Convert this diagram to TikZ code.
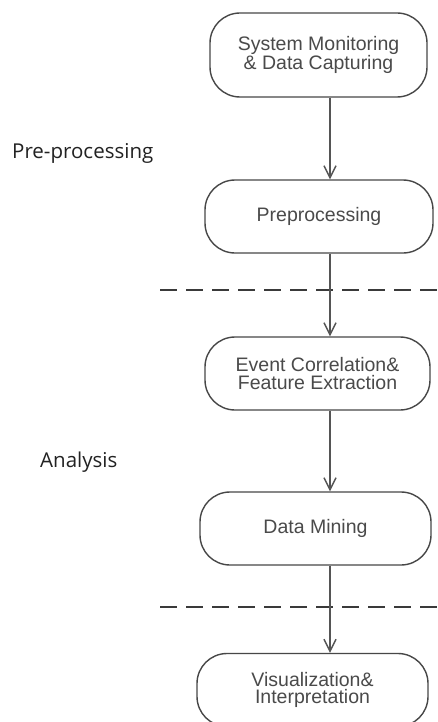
\documentclass[tikz,border=0pt]{standalone}
\usepackage{fontspec}
\setmainfont{Liberation Sans}
\newfontfamily\labfont{Open Sans}
\usetikzlibrary{arrows.meta}
\definecolor{boxline}{HTML}{474747}
\definecolor{boxtext}{HTML}{4A4A4A}
\definecolor{arrowline}{HTML}{555555}
\definecolor{sepline}{HTML}{3A3A3A}
\definecolor{labtext}{HTML}{222222}
\begin{document}
\begin{tikzpicture}[x=1bp,y=-1bp,
  stage/.style={draw=boxline, line width=1.4bp, rounded corners=30bp, align=center,
    text=boxtext, font=\fontsize{19.5bp}{17.5bp}\selectfont, inner sep=0pt},
  flow/.style={draw=arrowline, line width=1.4bp,
    -{Straight Barb[length=12bp,width=12bp,line width=1.4bp]}},
  sepline/.style={draw=sepline, line width=1.5bp, dash pattern=on 17bp off 9bp},
  phase/.style={font=\labfont\fontsize{20.5bp}{24bp}\selectfont, text=labtext,
    anchor=base west, inner sep=0pt}]
\useasboundingbox (0,0) rectangle (438,722);
\clip (0,0) rectangle (438,722);
\fill[white] (0,0) rectangle (438,722);

\node[stage, minimum width=217bp, minimum height=84bp] (b1) at (318.5,55) {System Monitoring\\\& Data Capturing};
\node[stage, minimum width=228bp, minimum height=73bp] (b2) at (319,216.5) {Preprocessing};
\node[stage, minimum width=225bp, minimum height=73bp] (b3) at (317.5,373.5) {Event Correlation\&\\Feature Extraction};
\node[stage, minimum width=231bp, minimum height=73bp] (b4) at (315.5,528.5) {Data Mining};
\node[stage, minimum width=231bp, minimum height=73bp] (b5) at (312.5,690) {Visualization\&\\Interpretation};

\node[phase] (l1) at (12,158) {Pre-processing};
\node[phase] (l2) at (40,467) {Analysis};

\coordinate (ax) at (330,0);
\coordinate (s1a) at (160,290);
\coordinate (s1b) at (438,290);
\coordinate (s2a) at (160,607);
\coordinate (s2b) at (438,607);

\draw[sepline] (s1a) -- (s1b);
\draw[sepline] (s2a) -- (s2b);

\draw[flow] (b1.south -| ax) -- (b2.north -| ax);
\draw[flow] (b2.south -| ax) -- (b3.north -| ax);
\draw[flow] (b3.south -| ax) -- (b4.north -| ax);
\draw[flow] (b4.south -| ax) -- (b5.north -| ax);
\end{tikzpicture}
\end{document}
